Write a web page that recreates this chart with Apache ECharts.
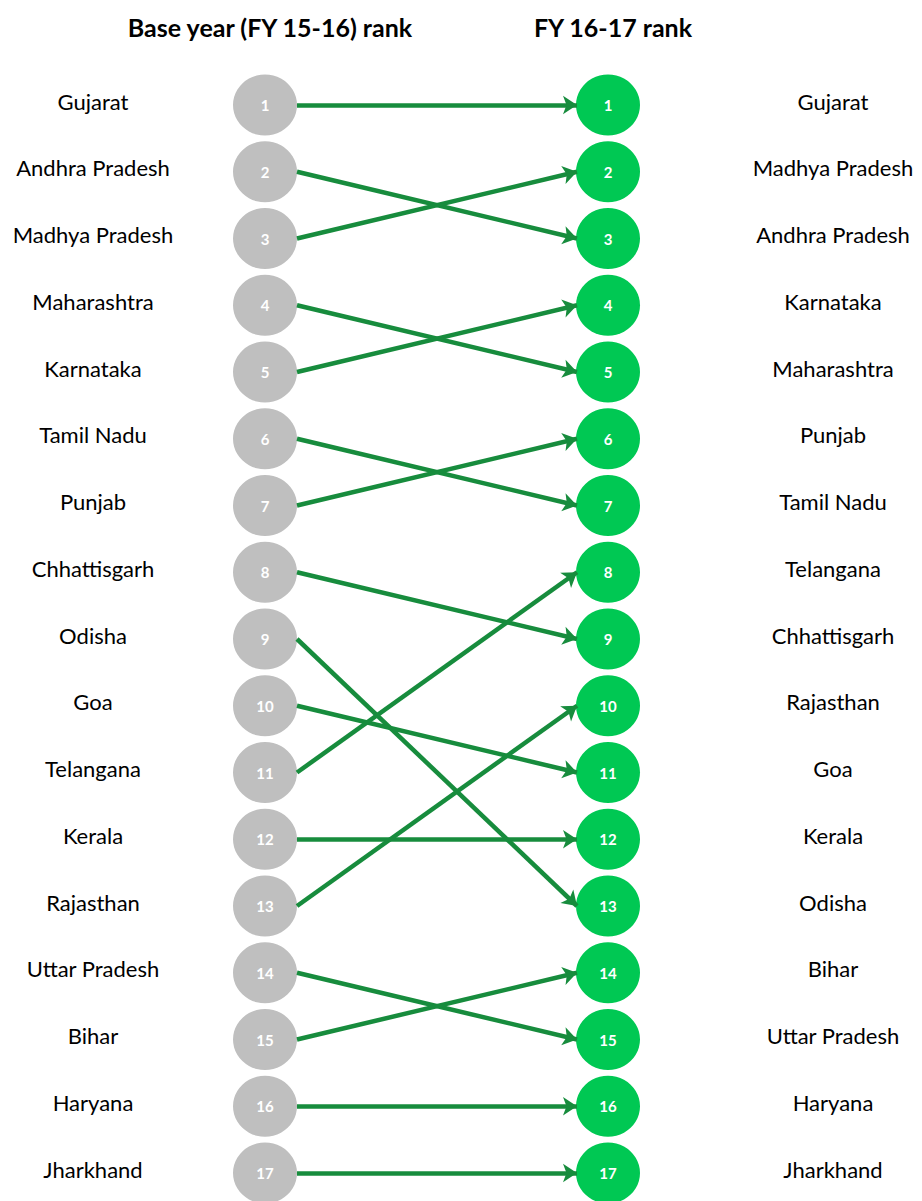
<!DOCTYPE html>
<html>
<head>
<meta charset="utf-8">
<style>
  html, body { margin: 0; padding: 0; background: #ffffff; }
  #chart { width: 922px; height: 1201px; }
</style>
<script src="https://cdn.jsdelivr.net/npm/echarts@6/dist/echarts.min.js"></script>
</head>
<body>
<div id="chart"></div>
<script>
// ranks (1..17), names in order of base year rank and of new rank
var baseNames = ['Gujarat', 'Andhra Pradesh', 'Madhya Pradesh', 'Maharashtra', 'Karnataka', 'Tamil Nadu',
  'Punjab', 'Chhattisgarh', 'Odisha', 'Goa', 'Telangana', 'Kerala', 'Rajasthan', 'Uttar Pradesh',
  'Bihar', 'Haryana', 'Jharkhand'];
var newNames = ['Gujarat', 'Madhya Pradesh', 'Andhra Pradesh', 'Karnataka', 'Maharashtra', 'Punjab',
  'Tamil Nadu', 'Telangana', 'Chhattisgarh', 'Rajasthan', 'Goa', 'Kerala', 'Odisha', 'Bihar',
  'Uttar Pradesh', 'Haryana', 'Jharkhand'];
var titles = ['Base year (FY 15-16) rank', 'FY 16-17 rank'];

(function() {
  var grey = '#bfbfbf';
  var green = '#00c853';
  var arrowColor = '#178c3d';
  var font = 'Lato, "Open Sans", sans-serif';

  // x: 0 = left column, 1 = right column (343px apart)
  var unit = 343;
  var xStart = 32 / unit;
  var xEnd = 1 - 31 / unit;
  var xLeftName = (93 - 265) / unit;
  var xRightName = 1 + (833 - 608) / unit;

  var leftPts = [], rightPts = [], leftLbl = [], rightLbl = [], links = [];
  baseNames.forEach(function(n, i) {
    leftPts.push([0, i + 1]);
    leftLbl.push({ value: [xLeftName, i + 1], name: n });
    var to = newNames.indexOf(n) + 1;
    links.push({ coords: [[xStart, i + 1], [xEnd, to]] });
  });
  newNames.forEach(function(n, i) {
    rightPts.push([1, i + 1]);
    rightLbl.push({ value: [xRightName, i + 1], name: n });
  });

  var circleLabel = {
    show: true,
    formatter: function(p) { return p.value[1]; },
    color: '#ffffff',
    fontSize: 15,
    fontWeight: 'bold',
    fontFamily: font
  };
  var nameLabel = {
    show: true,
    position: 'inside',
    offset: [0, -4],
    formatter: '{b}',
    color: '#000000',
    fontSize: 22,
    fontFamily: font
  };

  var chart = echarts.init(document.getElementById('chart'), null, { renderer: 'svg' });
  chart.setOption({
    animation: false,
    title: [
      { text: titles[0], left: 265, top: 9, textAlign: 'center',
        textStyle: { fontSize: 25, fontWeight: 'bold', color: '#000', fontFamily: font } },
      { text: titles[1], left: 608, top: 9, textAlign: 'center',
        textStyle: { fontSize: 25, fontWeight: 'bold', color: '#000', fontFamily: font } }
    ],
    grid: { left: 0, right: 0, top: 0, bottom: 0 },
    xAxis: {
      type: 'value',
      min: -265 / unit,
      max: 1 + (922 - 608) / unit,
      show: false
    },
    yAxis: {
      type: 'value',
      inverse: true,
      min: 1 - 105 / 66.75,
      max: 1 + 1096 / 66.75,
      show: false
    },
    series: [
      {
        type: 'lines',
        coordinateSystem: 'cartesian2d',
        symbol: ['none', 'arrow'],
        symbolSize: 14,
        lineStyle: { color: arrowColor, width: 4.5, opacity: 1 },
        silent: true,
        data: links,
        z: 3
      },
      {
        type: 'scatter',
        symbol: 'circle',
        symbolSize: [64, 61],
        itemStyle: { color: grey, opacity: 1 },
        label: circleLabel,
        data: leftPts,
        z: 2
      },
      {
        type: 'scatter',
        symbol: 'circle',
        symbolSize: [64, 61],
        itemStyle: { color: green, opacity: 1 },
        label: circleLabel,
        data: rightPts,
        z: 2
      },
      {
        type: 'scatter',
        symbolSize: 0,
        itemStyle: { opacity: 1 },
        label: nameLabel,
        data: leftLbl
      },
      {
        type: 'scatter',
        symbolSize: 0,
        itemStyle: { opacity: 1 },
        label: nameLabel,
        data: rightLbl
      }
    ]
  });
  window.addEventListener('resize', function() { chart.resize(); });
})();
</script>
</body>
</html>
